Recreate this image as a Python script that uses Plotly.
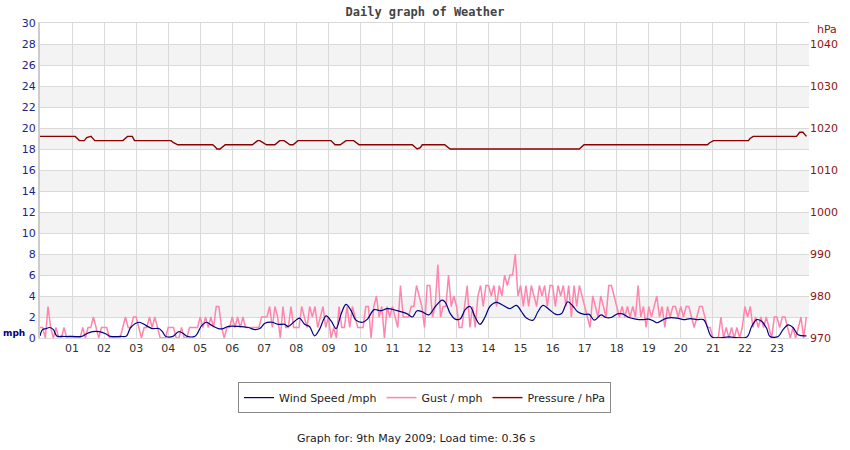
import plotly.graph_objects as go

# ---------------- data ----------------
hour_labels = ["%02d" % h for h in range(1, 24)]

# Gust / mph, 5-minute samples, one row per hour (00..23)
gust_by_hour = [
    [1, 1, 0, 3, 1, 0, 1, 0, 0, 1, 0, 0],
    [0, 0, 0, 0, 1, 0, 1, 1, 2, 1, 0, 1],
    [1, 1, 0, 0, 0, 0, 0, 1, 2, 1, 1, 2],
    [2, 1, 0, 1, 1, 2, 1, 2, 1, 0, 0, 0],
    [1, 1, 1, 0, 0, 1, 0, 0, 1, 1, 1, 1],
    [2, 1, 2, 1, 2, 1, 3, 3, 1, 0, 1, 1],
    [2, 1, 2, 1, 2, 1, 1, 1, 1, 1, 1, 2],
    [2, 2, 3, 1, 3, 2, 0, 3, 1, 1, 3, 1],
    [1, 1, 3, 2, 1, 3, 2, 3, 1, 2, 3, 1],
    [2, 0, 1, 0, 3, 1, 1, 3, 1, 3, 2, 1],
    [1, 1, 3, 3, 0, 3, 4, 2, 3, 0, 3, 2],
    [3, 2, 1, 5, 2, 2, 2, 3, 3, 5, 4, 3],
    [1, 5, 5, 2, 3, 7, 2, 3, 3, 6, 3, 4],
    [3, 1, 1, 3, 5, 1, 3, 1, 4, 5, 3, 5],
    [5, 4, 5, 3, 5, 4, 6, 5, 6, 6, 8, 4],
    [5, 3, 5, 3, 5, 4, 3, 5, 4, 5, 3, 5],
    [5, 3, 5, 4, 5, 3, 5, 2, 5, 3, 5, 4],
    [3, 2, 1, 4, 3, 2, 4, 3, 2, 5, 5, 4],
    [3, 2, 3, 2, 3, 2, 3, 2, 5, 2, 3, 1],
    [3, 2, 3, 4, 2, 3, 1, 3, 2, 3, 3, 2],
    [3, 2, 3, 3, 2, 1, 2, 3, 3, 2, 1, 1],
    [0, 0, 0, 2, 0, 1, 0, 1, 0, 1, 0, 1],
    [3, 2, 3, 1, 2, 1, 2, 1, 2, 1, 0, 2],
    [2, 1, 2, 2, 1, 0, 1, 0, 1, 2, 0, 2],
]

# Wind speed / mph (smoothed curve), time in hours
wind_t = [0.0, 0.08, 0.2, 0.3, 0.42, 0.52, 0.7, 1.0, 1.3, 1.45, 1.64, 1.85, 2.05, 2.2, 2.5, 2.7,
          2.83, 3.09, 3.3, 3.5, 3.71, 3.82, 3.93, 4.15, 4.33, 4.48, 4.6, 4.85, 5.05, 5.2, 5.36,
          5.57, 5.72, 5.88, 6.19, 6.5, 6.71, 6.86, 7.02, 7.23, 7.43, 7.64, 7.74, 7.95, 8.1, 8.26,
          8.41, 8.57, 8.72, 8.93, 9.09, 9.24, 9.4, 9.55, 9.71, 9.86, 10.07, 10.22, 10.43, 10.64,
          10.84, 11.15, 11.46, 11.62, 11.77, 11.93, 12.13, 12.34, 12.55, 12.65, 12.8, 12.96,
          13.11, 13.27, 13.42, 13.58, 13.73, 13.89, 14.04, 14.25, 14.46, 14.66, 14.87, 15.03,
          15.18, 15.39, 15.54, 15.7, 15.9, 16.1, 16.27, 16.47, 16.63, 16.78, 16.99, 17.14, 17.3,
          17.51, 17.66, 17.82, 18.02, 18.18, 18.38, 18.59, 18.8, 19.0, 19.16, 19.26, 19.42,
          19.57, 19.88, 20.09, 20.3, 20.5, 20.71, 20.82, 20.97, 21.5, 22.06, 22.21, 22.37,
          22.52, 22.68, 22.78, 23.04, 23.19, 23.35, 23.5, 23.66, 23.92]
wind_v = [0.2, 0.8, 0.9, 1.0, 0.8, 0.2, 0.15, 0.15, 0.15, 0.4, 0.6, 0.6, 0.4, 0.15, 0.15, 0.2,
          1.0, 1.5, 1.2, 0.9, 0.9, 0.6, 0.15, 0.15, 0.6, 0.4, 0.15, 0.2, 1.2, 1.5, 1.2,
          0.9, 0.9, 1.1, 1.1, 1.0, 0.8, 0.9, 1.4, 1.5, 1.3, 1.3, 1.1, 1.6, 1.9, 1.3,
          1.1, 0.2, 0.8, 2.1, 1.6, 0.9, 2.3, 3.2, 2.6, 1.7, 1.5, 1.8, 2.7, 2.6,
          2.8, 2.6, 2.3, 2.0, 2.6, 2.5, 2.2, 3.0, 3.6, 3.4, 2.35, 1.8,
          1.8, 2.7, 3.0, 2.0, 1.3, 2.0, 3.0, 3.4, 3.1, 2.8, 3.1, 2.5,
          1.9, 1.7, 2.5, 3.1, 2.7, 2.25, 2.3, 3.45, 3.05, 2.5, 2.25, 2.25, 1.7,
          2.2, 1.95, 1.95, 2.3, 2.3, 1.95, 1.8, 1.75, 1.8, 1.6, 1.45, 1.7,
          1.9, 1.9, 1.75, 1.85, 1.75, 1.75, 1.1, 0.1, 0.1, 0.1, 1.1, 1.75,
          1.6, 0.9, 0.15, 0.15, 0.8, 1.25, 1.0, 0.3, 0.2]

# Pressure / hPa, time in hours
pres_t = [0.0, 1.10, 1.23, 1.38, 1.46, 1.59, 1.71, 2.59, 2.66, 2.73, 2.88, 2.95, 4.09, 4.17, 4.30,
          5.39, 5.47, 5.52, 5.62, 5.69, 5.78, 6.63, 6.70, 6.79, 6.86, 6.96, 7.07, 7.33, 7.41,
          7.48, 7.62, 7.70, 7.80, 7.90, 7.98, 8.05, 9.08, 9.14, 9.21, 9.37, 9.45, 9.55, 9.79,
          9.86, 9.96, 11.62, 11.69, 11.77, 11.87, 11.93, 12.63, 12.70, 12.80, 16.83, 16.91,
          16.98, 20.83, 20.90, 21.02, 22.11, 22.16, 22.26, 23.61, 23.66, 23.71, 23.81, 23.87,
          23.92]
pres_v = [1018, 1018, 1017, 1017, 1017.7, 1018, 1017, 1017, 1017.5, 1018, 1018, 1017, 1017,
          1016.5, 1016, 1016, 1015.5, 1015, 1015, 1015.5, 1016, 1016, 1016.5, 1017, 1017,
          1016.5, 1016, 1016, 1016.5, 1017, 1017, 1016.5, 1016, 1016, 1016.5, 1017, 1017,
          1016.5, 1016, 1016, 1016.5, 1017, 1017, 1016.5, 1016, 1016, 1015.5, 1015, 1015.3,
          1016, 1016, 1015.5, 1015, 1015, 1015.5, 1016, 1016, 1016.5, 1017, 1017, 1017.5,
          1018, 1018, 1018.5, 1019, 1019, 1018.5, 1018]

gust_v = [v for row in gust_by_hour for v in row]
gust_t = [i * 5 / 60 for i in range(len(gust_v))]

# ---------------- styling ----------------
NAVY = "#000080"
PINK = "#ff85ad"
DARKRED = "#8b0000"
LEFT_TXT = "#1e1e8c"
RIGHT_TXT = "#8c1414"
GRID = "#d9d9d9"
BAND = "#f3f3f3"
FONT = "DejaVu Sans"

fig = go.Figure()

fig.add_trace(go.Scatter(
    x=gust_t, y=gust_v, name="Gust / mph", mode="lines",
    line=dict(color=PINK, width=1.5), legendrank=2))
fig.add_trace(go.Scatter(
    x=wind_t, y=wind_v, name="Wind Speed /mph", mode="lines",
    line=dict(color=NAVY, width=1.2, shape="spline", smoothing=1.0), legendrank=1))
fig.add_trace(go.Scatter(
    x=pres_t, y=pres_v, name="Pressure / hPa", mode="lines", yaxis="y2",
    line=dict(color=DARKRED, width=1.4), legendrank=3))

# alternating grey bands behind the grid
for lo in range(2, 30, 4):
    fig.add_shape(type="rect", xref="paper", yref="y", x0=0, x1=1, y0=lo, y1=lo + 2,
                  fillcolor=BAND, line=dict(width=0), layer="below")

fig.update_layout(
    width=850, height=450,
    margin=dict(l=40, r=38, t=23, b=112),
    paper_bgcolor="white", plot_bgcolor="white",
    font=dict(family=FONT, size=11, color="#222222"),
    title=dict(text="<b>Daily graph of Weather</b>", x=0.5, xanchor="center",
               y=0.983, yanchor="top",
               font=dict(family="DejaVu Sans Mono", size=12, color="#444444")),
    xaxis=dict(range=[0, 24], tickmode="array", tickvals=list(range(1, 24)),
               ticktext=hour_labels, showgrid=True, gridcolor=GRID, gridwidth=1,
               zeroline=False, showline=True, mirror=True, linecolor=GRID, linewidth=1,
               ticks="", tickfont=dict(family=FONT, size=11, color="#333333")),
    yaxis=dict(range=[0, 30], tickmode="linear", tick0=0, dtick=2, showgrid=True,
               gridcolor=GRID, gridwidth=1, zeroline=False, showline=True,
               linecolor="#cccccc", linewidth=2, ticks="",
               tickfont=dict(family=FONT, size=11, color=LEFT_TXT)),
    yaxis2=dict(range=[970, 1045], overlaying="y", side="right", tickmode="linear",
                tick0=970, dtick=10, showgrid=False, zeroline=False, showline=False,
                ticks="", tickfont=dict(family=FONT, size=11, color=RIGHT_TXT)),
    legend=dict(orientation="h", x=0.5, xanchor="center", y=-0.14, yanchor="top",
                bordercolor="#888888", borderwidth=1, bgcolor="white",
                font=dict(family=FONT, size=11, color="#222222"),
                itemwidth=30),
    showlegend=True,
)

fig.add_annotation(text="<b>mph</b>", xref="paper", yref="y", x=0, y=0,
                   xanchor="right", yanchor="middle", xshift=-13, yshift=5,
                   showarrow=False, font=dict(family=FONT, size=9, color=NAVY))
fig.add_annotation(text="hPa", xref="paper", yref="paper", x=1, y=1,
                   xanchor="left", yanchor="middle", xshift=6, yshift=-6,
                   showarrow=False, font=dict(family=FONT, size=11, color=RIGHT_TXT))
fig.add_annotation(text="Graph for: 9th May 2009; Load time: 0.36 s", xref="paper",
                   yref="paper", x=0.49, y=-0.318, xanchor="center", yanchor="middle",
                   showarrow=False, font=dict(family=FONT, size=11, color="#222222"))

fig.write_html("out.html", config={"displayModeBar": False},
               post_script="document.body.style.margin='0';document.body.style.padding='0';")
